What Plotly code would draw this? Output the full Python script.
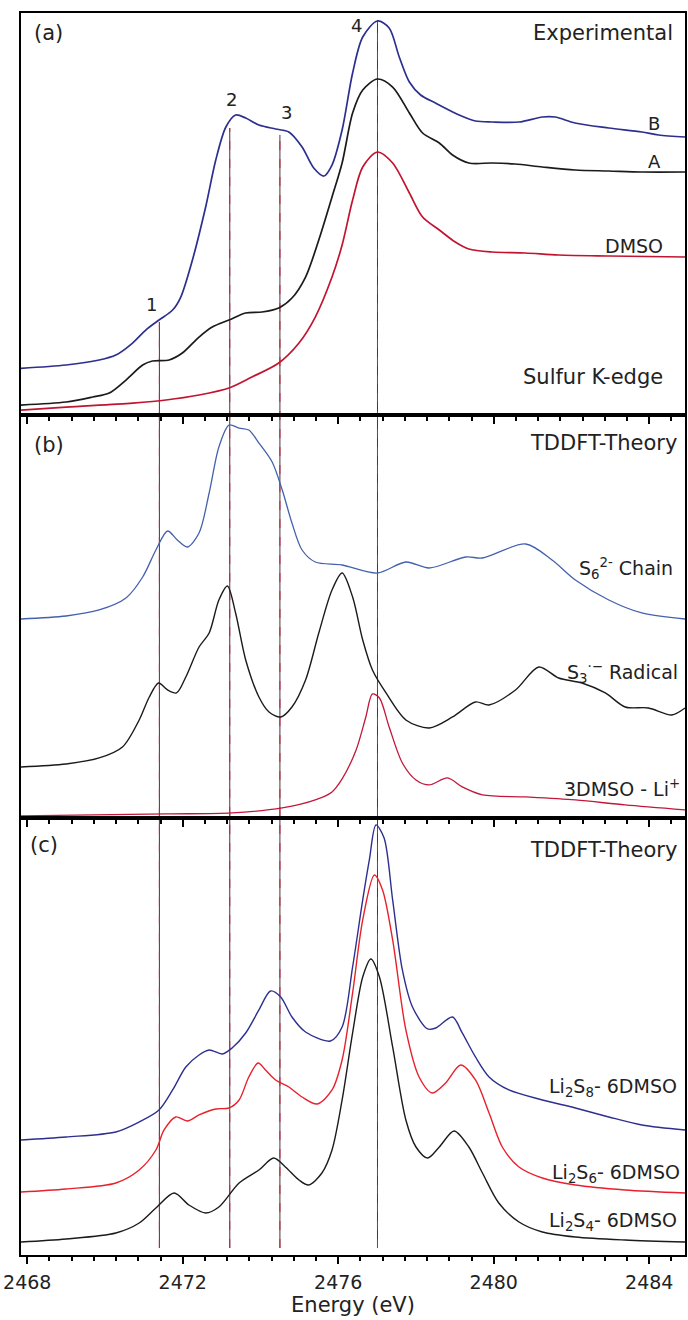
import plotly.graph_objects as go

# ---------------- data (Energy in eV, intensity in arbitrary units) ----------------
# Panel (a) Experimental
E_B = [2467.84, 2469.00, 2469.85, 2470.28, 2470.71, 2471.05, 2471.39, 2471.74, 2471.95, 2472.25,
       2472.59, 2472.85, 2473.11, 2473.36, 2473.62, 2473.96, 2474.39, 2474.73, 2475.07, 2475.37,
       2475.63, 2475.84, 2476.10, 2476.37, 2476.63, 2477.01, 2477.31, 2477.57, 2477.83, 2478.12,
       2478.50, 2479.11, 2479.53, 2479.96, 2480.65, 2481.25, 2481.58, 2482.09, 2482.96, 2483.81,
       2484.24, 2484.92]
I_B = [4.67, 5.0, 5.5, 6.0, 7.2, 8.5, 9.5, 10.5, 11.8, 15.5,
       20.8, 25.5, 28.8, 30.0, 29.7, 29.0, 28.6, 28.3, 26.8, 24.7,
       23.9, 25.0, 28.5, 34.2, 37.8, 39.4, 38.7, 35.8, 33.3, 32.0,
       31.2, 30.0, 29.4, 29.3, 29.3, 29.8, 29.8, 29.2, 28.7, 28.3,
       28.0, 27.8]

E_A = [2467.84, 2469.00, 2469.68, 2470.11, 2470.54, 2470.97, 2471.22, 2471.65, 2471.99, 2472.42,
       2472.76, 2473.19, 2473.62, 2474.04, 2474.47, 2474.81, 2475.16, 2475.50, 2475.84, 2476.10,
       2476.37, 2476.63, 2477.01, 2477.40, 2477.83, 2478.17, 2478.60, 2478.94, 2479.36, 2479.96,
       2480.55, 2481.25, 2482.09, 2482.96, 2483.81, 2484.92]
I_A = [1.0, 1.3, 1.8, 2.2, 3.5, 5.0, 5.4, 5.5, 6.2, 7.8,
       8.8, 9.5, 10.2, 10.3, 10.7, 11.7, 13.8, 17.5, 21.8, 25.2,
       30.2, 32.5, 33.6, 32.8, 30.2, 28.2, 27.2, 26.0, 25.2, 25.2,
       25.1, 24.8, 24.5, 24.4, 24.3, 24.3]

E_DMSO = [2467.84, 2469.00, 2470.71, 2471.57, 2472.42, 2473.19, 2473.78, 2474.47, 2474.99, 2475.41,
          2475.84, 2476.10, 2476.37, 2476.63, 2477.01, 2477.40, 2477.83, 2478.17, 2478.60, 2479.01,
          2479.36, 2479.96, 2480.81, 2481.67, 2482.96, 2484.92]
I_DMSO = [0.5, 0.8, 1.2, 1.5, 2.0, 2.7, 3.8, 5.2, 7.2, 9.8,
          13.8, 17.0, 21.5, 24.8, 26.3, 25.2, 22.2, 19.8, 18.5, 17.3,
          16.6, 16.3, 16.2, 16.0, 15.9, 15.8]

# Panel (b) TDDFT
E_S6 = [2467.84, 2469.00, 2469.85, 2470.54, 2470.97, 2471.31, 2471.61, 2471.86, 2472.12, 2472.42,
        2472.68, 2472.93, 2473.19, 2473.45, 2473.70, 2473.96, 2474.30, 2474.56, 2474.81, 2475.07,
        2475.41, 2476.10, 2477.01, 2477.74, 2478.34, 2479.28, 2479.71, 2480.82, 2481.50, 2482.10,
        2482.96, 2483.81, 2484.92]
I_S6 = [19.9, 20.2, 20.8, 22.0, 24.1, 26.8, 28.7, 27.8, 27.1, 28.5,
        32.5, 37.1, 39.3, 39.0, 38.8, 37.5, 35.6, 32.8, 29.5, 26.8,
        25.6, 25.3, 24.5, 25.6, 25.0, 26.1, 26.0, 27.4, 25.8, 23.8,
        21.8, 20.5, 19.9]

E_S3 = [2467.84, 2469.00, 2469.85, 2470.45, 2470.88, 2471.14, 2471.38, 2471.61, 2471.84, 2472.08,
        2472.42, 2472.68, 2472.93, 2473.15, 2473.36, 2473.62, 2473.96, 2474.22, 2474.52, 2474.81,
        2475.16, 2475.50, 2475.84, 2476.10, 2476.37, 2476.63, 2476.88, 2477.23, 2477.74, 2478.34,
        2478.94, 2479.53, 2479.88, 2480.56, 2481.16, 2481.67, 2482.27, 2482.87, 2483.38, 2483.98,
        2484.58, 2484.92]
I_S3 = [5.1, 5.4, 6.0, 7.1, 9.8, 12.1, 13.5, 12.8, 12.5, 14.1,
        17.1, 18.5, 21.8, 23.2, 20.5, 15.8, 12.1, 10.6, 10.1, 11.1,
        13.8, 18.5, 22.8, 24.5, 22.1, 17.8, 14.8, 12.5, 9.8, 9.0,
        10.1, 11.6, 11.3, 12.8, 15.1, 14.0, 13.5, 12.5, 11.1, 11.0,
        10.3, 11.0]

E_LI = [2467.84, 2471.57, 2473.27, 2474.56, 2475.41, 2475.84, 2476.10, 2476.46, 2476.71, 2476.88,
        2477.06, 2477.31, 2477.65, 2478.00, 2478.34, 2478.81, 2479.19, 2479.71, 2480.82, 2482.10,
        2483.38, 2484.92]
I_LI = [0.2, 0.4, 0.5, 1.0, 1.8, 2.6, 3.9, 6.8, 10.1, 12.4,
        12.0, 9.1, 5.5, 3.8, 3.3, 4.0, 3.1, 2.3, 2.1, 1.8,
        1.3, 0.8]

# Panel (c) TDDFT
E_S8 = [2467.84, 2469.00, 2470.28, 2470.88, 2471.39, 2471.74, 2472.08, 2472.42, 2472.68, 2473.02,
        2473.27, 2473.62, 2473.96, 2474.26, 2474.52, 2474.81, 2475.16, 2475.80, 2476.10, 2476.37,
        2476.63, 2476.80, 2476.97, 2477.18, 2477.40, 2477.65, 2477.91, 2478.30, 2478.51, 2478.94,
        2479.19, 2479.53, 2479.88, 2480.39, 2481.25, 2482.10, 2482.96, 2483.81, 2484.92]
I_S8 = [11.5, 11.8, 12.3, 13.3, 14.5, 16.5, 18.8, 20.0, 20.5, 20.1,
        20.7, 22.2, 24.5, 26.4, 25.8, 23.8, 22.3, 21.4, 22.8, 28.8,
        35.5, 39.5, 43.0, 41.7, 35.5, 28.5, 24.8, 22.6, 22.7, 23.8,
        22.2, 19.8, 17.8, 16.5, 15.5, 14.7, 13.8, 13.0, 12.5]

E_S6D = [2467.84, 2469.00, 2470.28, 2470.88, 2471.31, 2471.52, 2471.82, 2472.12, 2472.42, 2472.85,
         2473.19, 2473.45, 2473.70, 2473.94, 2474.13, 2474.39, 2474.73, 2475.07, 2475.46, 2475.84,
         2476.10, 2476.37, 2476.63, 2476.93, 2477.14, 2477.40, 2477.74, 2478.08, 2478.42, 2478.76,
         2479.15, 2479.53, 2479.88, 2480.22, 2480.65, 2481.25, 2482.10, 2483.38, 2484.92]
I_S6D = [6.3, 6.6, 7.2, 8.5, 10.5, 12.5, 13.8, 13.4, 14.0, 14.6,
         14.7, 15.5, 17.8, 19.2, 18.5, 17.5, 16.8, 15.8, 15.1, 16.5,
         19.5, 26.2, 33.5, 38.0, 36.5, 31.5, 22.5, 17.8, 16.2, 17.2,
         19.0, 17.5, 14.2, 10.8, 8.8, 7.7, 7.0, 6.5, 6.2]

E_S4 = [2467.84, 2469.00, 2470.28, 2470.88, 2471.31, 2471.78, 2472.16, 2472.59, 2472.93, 2473.45,
        2473.96, 2474.34, 2474.64, 2474.99, 2475.24, 2475.58, 2475.84, 2476.10, 2476.37, 2476.63,
        2476.84, 2477.06, 2477.40, 2477.74, 2478.00, 2478.30, 2478.60, 2478.98, 2479.36, 2479.71,
        2480.13, 2480.65, 2481.25, 2482.10, 2483.38, 2484.92]
I_S4 = [1.3, 1.6, 2.2, 3.2, 4.7, 6.2, 5.0, 4.2, 4.8, 7.2,
        8.5, 9.7, 8.8, 7.5, 7.0, 8.2, 10.5, 15.5, 22.2, 27.8,
        29.6, 27.8, 20.8, 13.5, 10.8, 9.7, 10.8, 12.4, 10.8, 8.2,
        5.2, 3.3, 2.3, 1.8, 1.5, 1.3]

# marked features 1-4
VLINE_E = [2471.40, 2473.21, 2474.50, 2477.01]
VLINE_LABELS = ["1", "2", "3", "4"]

X_RANGE = [2467.84, 2484.92]
TICKS = [2468, 2472, 2476, 2480, 2484]

FONT = "DejaVu Sans"
BLUE_A = "#2d2f8f"
RED_A = "#c01530"
BLUE_B = "#4461ad"
RED_B = "#c2173a"
RED_C = "#e8202c"
BLACK = "#1b1b1b"

fig = go.Figure()

def add(x, y, color, ax, width=1.5):
    fig.add_trace(go.Scatter(x=x, y=y, mode="lines", xaxis="x" + ax, yaxis="y" + ax,
                             line=dict(color=color, width=width, shape="spline", smoothing=0.85),
                             showlegend=False, hoverinfo="skip"))

add(E_DMSO, I_DMSO, RED_A, "", 1.7)
add(E_A, I_A, BLACK, "", 1.7)
add(E_B, I_B, BLUE_A, "", 1.7)
add(E_LI, I_LI, RED_B, "2", 1.3)
add(E_S3, I_S3, BLACK, "2", 1.4)
add(E_S6, I_S6, BLUE_B, "2", 1.3)
add(E_S4, I_S4, BLACK, "3", 1.4)
add(E_S6D, I_S6D, RED_C, "3", 1.4)
add(E_S8, I_S8, BLUE_A, "3", 1.4)

def xax(anchor, labels):
    d = dict(domain=[0, 1], anchor=anchor, range=X_RANGE, showline=True, linewidth=2,
             linecolor="black", mirror=True, ticks="outside", ticklen=7, tickwidth=2,
             tickcolor="black", tickmode="array", tickvals=TICKS,
             showticklabels=labels, showgrid=False, zeroline=False,
             minor=dict(tickmode="linear", tick0=2468, dtick=4 / 7, ticks="outside",
                        ticklen=4, tickwidth=2, tickcolor="black", showgrid=False),
             tickfont=dict(family=FONT, size=19, color="#222"))
    return d

def yax(dom, rng):
    return dict(domain=dom, range=rng, showline=True, linewidth=2, linecolor="black",
                mirror=True, ticks="", showticklabels=False, showgrid=False, zeroline=False)

xa3 = xax("y3", True)
xa3["title"] = dict(text="Energy (eV)", font=dict(family=FONT, size=21, color="#222"), standoff=4)
xa3["ticklabelstandoff"] = 2

fig.update_layout(
    width=688, height=1320,
    margin=dict(l=21, r=1, t=13, b=65),
    paper_bgcolor="white", plot_bgcolor="white",
    xaxis=xax("y", False), xaxis2=xax("y2", False), xaxis3=xa3,
    yaxis=yax([0.6763, 1.0], [0, 40.2]),
    yaxis2=yax([0.3519, 0.6763], [0, 40.3]),
    yaxis3=yax([0.0, 0.3519], [0, 43.7]),
    font=dict(family=FONT, color="#222"),
)

# vertical guide lines spanning panels
tops = [0.7512, 0.9074, 0.9018, 0.9944]
for e, t in zip(VLINE_E, tops):
    fig.add_shape(type="line", xref="x3", yref="paper", x0=e, x1=e, y0=0.0056, y1=t,
                  line=dict(color="#3a1a24", width=0.9), layer="below")
    fig.add_shape(type="line", xref="x3", yref="paper", x0=e, x1=e, y0=0.0056, y1=t,
                  line=dict(color="#c8203c", width=1.0, dash="9px,9px"), layer="below")

def ann(text, x, y, size, xanchor="center", color="#222"):
    fig.add_annotation(text=text, x=x, y=y, xref="paper", yref="paper", showarrow=False,
                       xanchor=xanchor, yanchor="middle", font=dict(family=FONT, size=size, color=color))

# panel a
ann("(a)", 0.0165, 0.9839, 21, "left")
ann("Experimental", 0.985, 0.9839, 21, "right")
ann("B", 0.9535, 0.9114, 18)
ann("A", 0.9535, 0.8808, 18)
ann("DMSO", 0.9234, 0.8124, 19)
ann("Sulfur K-edge", 0.970, 0.7069, 21, "right")
peak_pos = [(0.1967, 0.7649), (0.3168, 0.9300), (0.3994, 0.9195), (0.5060, 0.9903)]
for lab, (px, py) in zip(VLINE_LABELS, peak_pos):
    ann(lab, px, py, 18)

# panel b
ann("(b)", 0.0165, 0.6522, 21, "left")
ann("TDDFT-Theory", 0.991, 0.6538, 21, "right")
ann("S<sub>6</sub><sup>2-</sup> Chain", 0.985, 0.5531, 19, "right")
ann("S<sub>3</sub><sup>·−</sup> Radical", 0.9925, 0.4694, 19, "right")
ann("3DMSO - Li<sup>+</sup>", 0.9955, 0.3760, 19, "right")

# panel c
ann("(c)", 0.0105, 0.3301, 21, "left")
ann("TDDFT-Theory", 0.991, 0.3261, 21, "right")
ann("Li<sub>2</sub>S<sub>8</sub>- 6DMSO", 0.991, 0.1345, 19, "right")
ann("Li<sub>2</sub>S<sub>6</sub>- 6DMSO", 0.9955, 0.0660, 19, "right")
ann("Li<sub>2</sub>S<sub>4</sub>- 6DMSO", 0.991, 0.0266, 19, "right")

fig.write_html("out.html", config={"displayModeBar": False},
               post_script="document.body.style.margin='0';document.body.style.overflow='hidden';")
